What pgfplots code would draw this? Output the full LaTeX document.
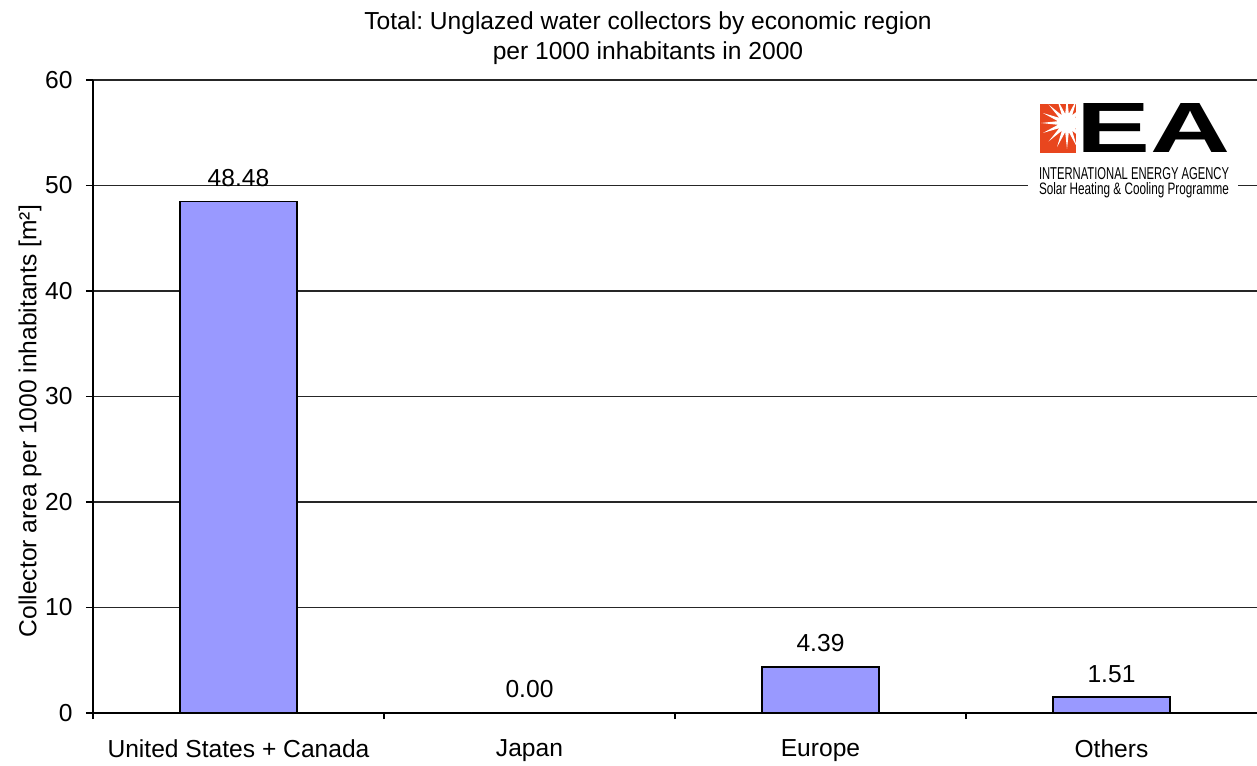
\documentclass[border=0pt]{standalone}
\usepackage{fontspec}
\setmainfont{Liberation Sans}
\usepackage{pgfplots}
\pgfplotsset{compat=1.18}
\usetikzlibrary{shapes.geometric}
\definecolor{barblue}{HTML}{9999FF}
\definecolor{ieared}{HTML}{E8461E}
\pgfkeys{/pgf/number format/assume math mode=true}
\frenchspacing
\begin{document}
\fontsize{12.3}{14.8}\selectfont
\begin{tikzpicture}
\path[use as bounding box] (0,0) rectangle (628.5pt,382.5pt);
\begin{axis}[
  at={(46.5pt,26pt)}, anchor=south west,
  width=582pt, height=316.5pt, scale only axis,
  xmin=-0.5, xmax=3.5, ymin=0, ymax=60,
  ytick={0,10,...,60},
  xtick={0,1,2,3},
  xticklabels={United States + Canada, Japan, Europe, Others},
  minor xtick={-0.5,0.5,1.5,2.5},
  major x tick style={draw=none},
  minor x tick style={black, line width=0.6pt},
  y tick style={black, line width=0.6pt},
  minor tick length=3pt,
  major tick length=3.5pt,
  tick align=outside,
  axis x line*=bottom, axis y line*=left,
  axis line style={black, line width=0.7pt, -},
  ymajorgrids, grid style={black!85, line width=0.55pt},
  xticklabel style={yshift=-5.5pt},
  yticklabel style={xshift=-2.4pt},
  nodes near coords={\pgfmathprintnumber[fixed,fixed zerofill,precision=2]{\pgfplotspointmeta}},
  every node near coord/.append style={anchor=base, inner sep=0pt, yshift=7.5pt, black},
]
\addplot[ybar, fill=barblue, draw=black, line width=0.9pt, bar width=0.4]
  coordinates {(0,48.48) (1,0) (2,4.39) (3,1.51)};
\end{axis}
% title
\node[anchor=base] at (324pt,367.5pt) {Total: Unglazed water collectors by economic region};
\node[anchor=base] at (324pt,352.5pt) {per 1000 inhabitants in 2000};
% y label
\node[rotate=90] at (15pt,172pt) {Collector area per 1000 inhabitants [m²]};
% logo
\fill[white] (514pt,282pt) rectangle (619pt,300pt);
\fill[ieared] (520pt,306pt) rectangle (538pt,330.5pt);
\begin{scope}
  \clip (520pt,306pt) rectangle (538pt,330.5pt);
  \node[star, star points=16, star point ratio=2.8, fill=white, minimum size=26pt, inner sep=0pt] at (533.5pt,321pt) {};
\end{scope}
\node[anchor=south west, inner sep=0pt] at (538pt,306pt) {\resizebox{77pt}{24.5pt}{\bfseries EA}};
\node[anchor=base, inner sep=0pt] at (567pt,292.5pt) {\resizebox{95pt}{6pt}{INTERNATIONAL ENERGY AGENCY}};
\node[anchor=base, inner sep=0pt] at (567pt,285pt) {\resizebox{95pt}{6pt}{Solar Heating \& Cooling Programme}};
\end{tikzpicture}
\end{document}
